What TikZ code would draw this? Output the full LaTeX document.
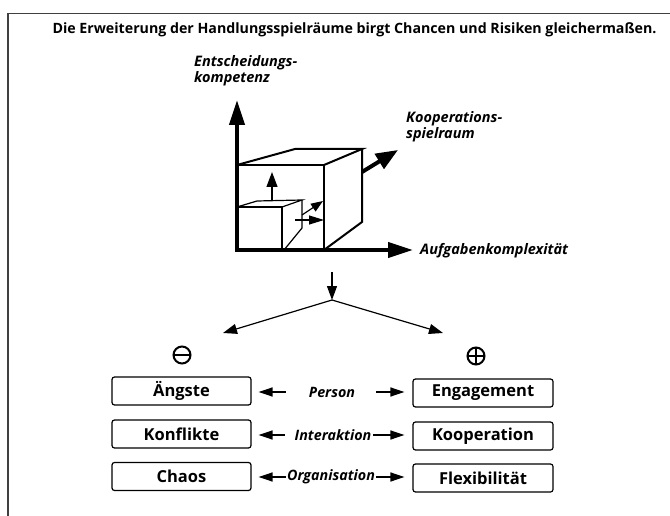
\documentclass[tikz,border=0pt]{standalone}
\usepackage{fontspec}
\setmainfont{Open Sans}
\usetikzlibrary{arrows.meta}
\begin{document}
\begin{tikzpicture}[x=1pt,y=-1pt,
  box/.style={draw, line width=1.2pt, rounded corners=2.5pt, minimum width=139pt, minimum height=28pt, inner sep=0pt, font=\bfseries\fontsize{16.5}{18}\selectfont},
  lab/.style={inner sep=0pt, font=\bfseries\itshape\fontsize{14.3}{15}\selectfont},
  axlab/.style={inner sep=0pt, align=left, font=\bfseries\itshape\fontsize{14.5}{16.5}\selectfont},
  axis/.style={line width=4pt, -{Triangle[length=25pt,width=15pt]}},
  cube/.style={line width=2pt, line join=miter},
  small/.style={line width=1.2pt},
  arr/.style={line width=1.2pt, -{Triangle[length=14pt,width=10pt]}},
  midarr/.style={line width=1.5pt, -{Triangle[length=14pt,width=9pt]}},
  sym/.style={circle, draw, line width=2pt, minimum size=17pt, inner sep=0pt}
]
\useasboundingbox (0,0) rectangle (670,516);
% frame
\draw[line width=1.2pt, black!75] (8,516) -- (8,13.5) -- (670,13.5);
% title
\node[inner sep=0pt, font=\bfseries\fontsize{14.2}{16}\selectfont] (title) at (354.5,30) {Die Erweiterung der Handlungsspielräume birgt Chancen und Risiken gleichermaßen.};
% axis labels
\node[axlab, anchor=north west] (ent) at (194,55) {Entscheidungs-\\kompetenz};
\node[axlab, anchor=north west] (koop) at (406,111) {Kooperations-\\spielraum};
\node[axlab, anchor=west] (aufg) at (420,251) {Aufgabenkomplexität};
% big cube
\draw[cube] (237,165) -- (324,165) -- (324,250);
\draw[cube] (237,165) -- (295,149) -- (362,149) -- (324,165);
\draw[cube] (362,149) -- (362,222) -- (324,250);
% small cube
\draw[small] (237,207) -- (282,207) -- (282,250);
\draw[small] (237,207) -- (257,201) -- (302,200) -- (282,207);
\draw[small] (302,200) -- (302,228) -- (284,250);
\draw[line width=1.2pt, -{Triangle[length=15pt,width=11pt]}] (272,201) -- (272,172);
\draw[line width=1.2pt, -{Triangle[length=12pt,width=9pt]}] (302,215) -- (323,201);
\draw[line width=1.2pt, -{Triangle[length=15pt,width=9pt]}] (295,220) -- (324,220);
% axes
\draw[axis] (237,252) -- (237,100);
\draw[axis] (235,250) -- (413,250);
\draw[line width=4pt, -{Triangle[length=22pt,width=17pt]}] (362,172) -- (398,150);
% split arrows
\coordinate (top) at (332,272);
\coordinate (split) at (332,300);
\coordinate (lt) at (223,333);
\coordinate (rt) at (443,333);
\draw[arr] (top) -- (split);
\draw[arr] (split) -- (lt);
\draw[arr] (split) -- (rt);
\node[sym] (minus) at (182,355) {};
\draw[line width=2pt] ([xshift=1pt]minus.west) -- ([xshift=-1pt]minus.east);
\node[sym] (plus) at (476,356) {};
\draw[line width=2pt] ([xshift=1pt]plus.west) -- ([xshift=-1pt]plus.east);
\draw[line width=2pt] ([yshift=-1pt]plus.north) -- ([yshift=1pt]plus.south);
% boxes
\node[box] (L1) at (181.5,391) {Ängste};
\node[box] (L2) at (181.5,434) {Konflikte};
\node[box] (L3) at (181.5,476.5) {Chaos};
\node[box, minimum width=140pt] (R1) at (483,393) {Engagement};
\node[box, minimum width=140pt] (R2) at (483,436) {Kooperation};
\node[box, minimum width=140pt] (R3) at (483,478) {Flexibilität};
% middle labels
\node[lab] (P) at (332,392) {Person};
\node[lab] (I) at (333,435) {Interaktion};
\node[lab] (O) at (331,477) {Organisation};
\draw[midarr, shorten >=7pt] (P.west) ++(-23,0) coordinate (p1) -- (p1 -| L1.east);
\draw[midarr, shorten >=8pt] (P.east) ++(21,0) coordinate (p2) -- (p2 -| R1.west);
\draw[midarr, shorten <=10pt, shorten >=7pt] (I.west) -- (I.west -| L2.east);
\draw[midarr, shorten <=2pt, shorten >=8pt] (I.east) -- (I.east -| R2.west);
\draw[midarr, shorten <=1pt, shorten >=7pt] (O.west) -- (O.west -| L3.east);
\draw[midarr, shorten <=1pt, shorten >=8pt] (O.east) -- (O.east -| R3.west);
\end{tikzpicture}
\end{document}
